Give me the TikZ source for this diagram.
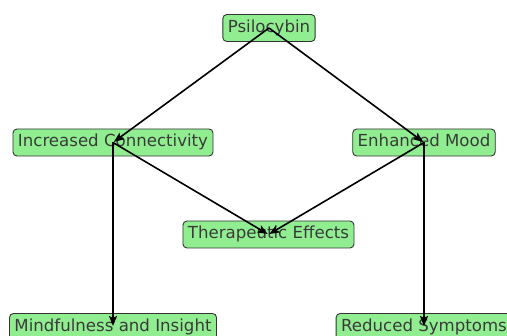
\documentclass[tikz,border=0pt]{standalone}
\usepackage{fontspec}
\setmainfont{DejaVu Sans}
\usetikzlibrary{arrows.meta}
\definecolor{boxfill}{HTML}{90EE90}
\definecolor{boxtext}{HTML}{3A3A3A}

\begin{document}
\begin{tikzpicture}[x=1pt,y=-1pt,
    effect/.style={draw=black!80,line width=0.9pt,fill=boxfill,rounded corners=4pt,
      text=boxtext,font=\fontsize{16.6}{20}\selectfont,inner xsep=5pt,
      minimum height=27pt,text height=12.5pt,text depth=3.5pt},
    link/.style={line width=1.6pt,-{Stealth[length=10pt,width=8pt,inset=2pt]},shorten >=1pt}]
  \useasboundingbox (0,0) rectangle (507,336);

  \node[effect] (psilo) at (269,28) {Psilocybin};
  \node[effect] (conn) at (113,142.5) {Increased Connectivity};
  \node[effect] (mood) at (424,142.5) {Enhanced Mood};
  \node[effect] (thera) at (268.5,234.5) {Therapeutic Effects};
  \node[effect] (mind) at (113,327) {Mindfulness and Insight};
  \node[effect] (symp) at (424,327) {Reduced Symptoms};

  % edges go centre to centre, over the boxes
  \draw[link] (psilo.center) -- (conn.center);
  \draw[link] (psilo.center) -- (mood.center);
  \draw[link] (conn.center) -- (thera.center);
  \draw[link] (mood.center) -- (thera.center);
  \draw[link] (conn.center) -- (mind.center);
  \draw[link] (mood.center) -- (symp.center);
\end{tikzpicture}
\end{document}
